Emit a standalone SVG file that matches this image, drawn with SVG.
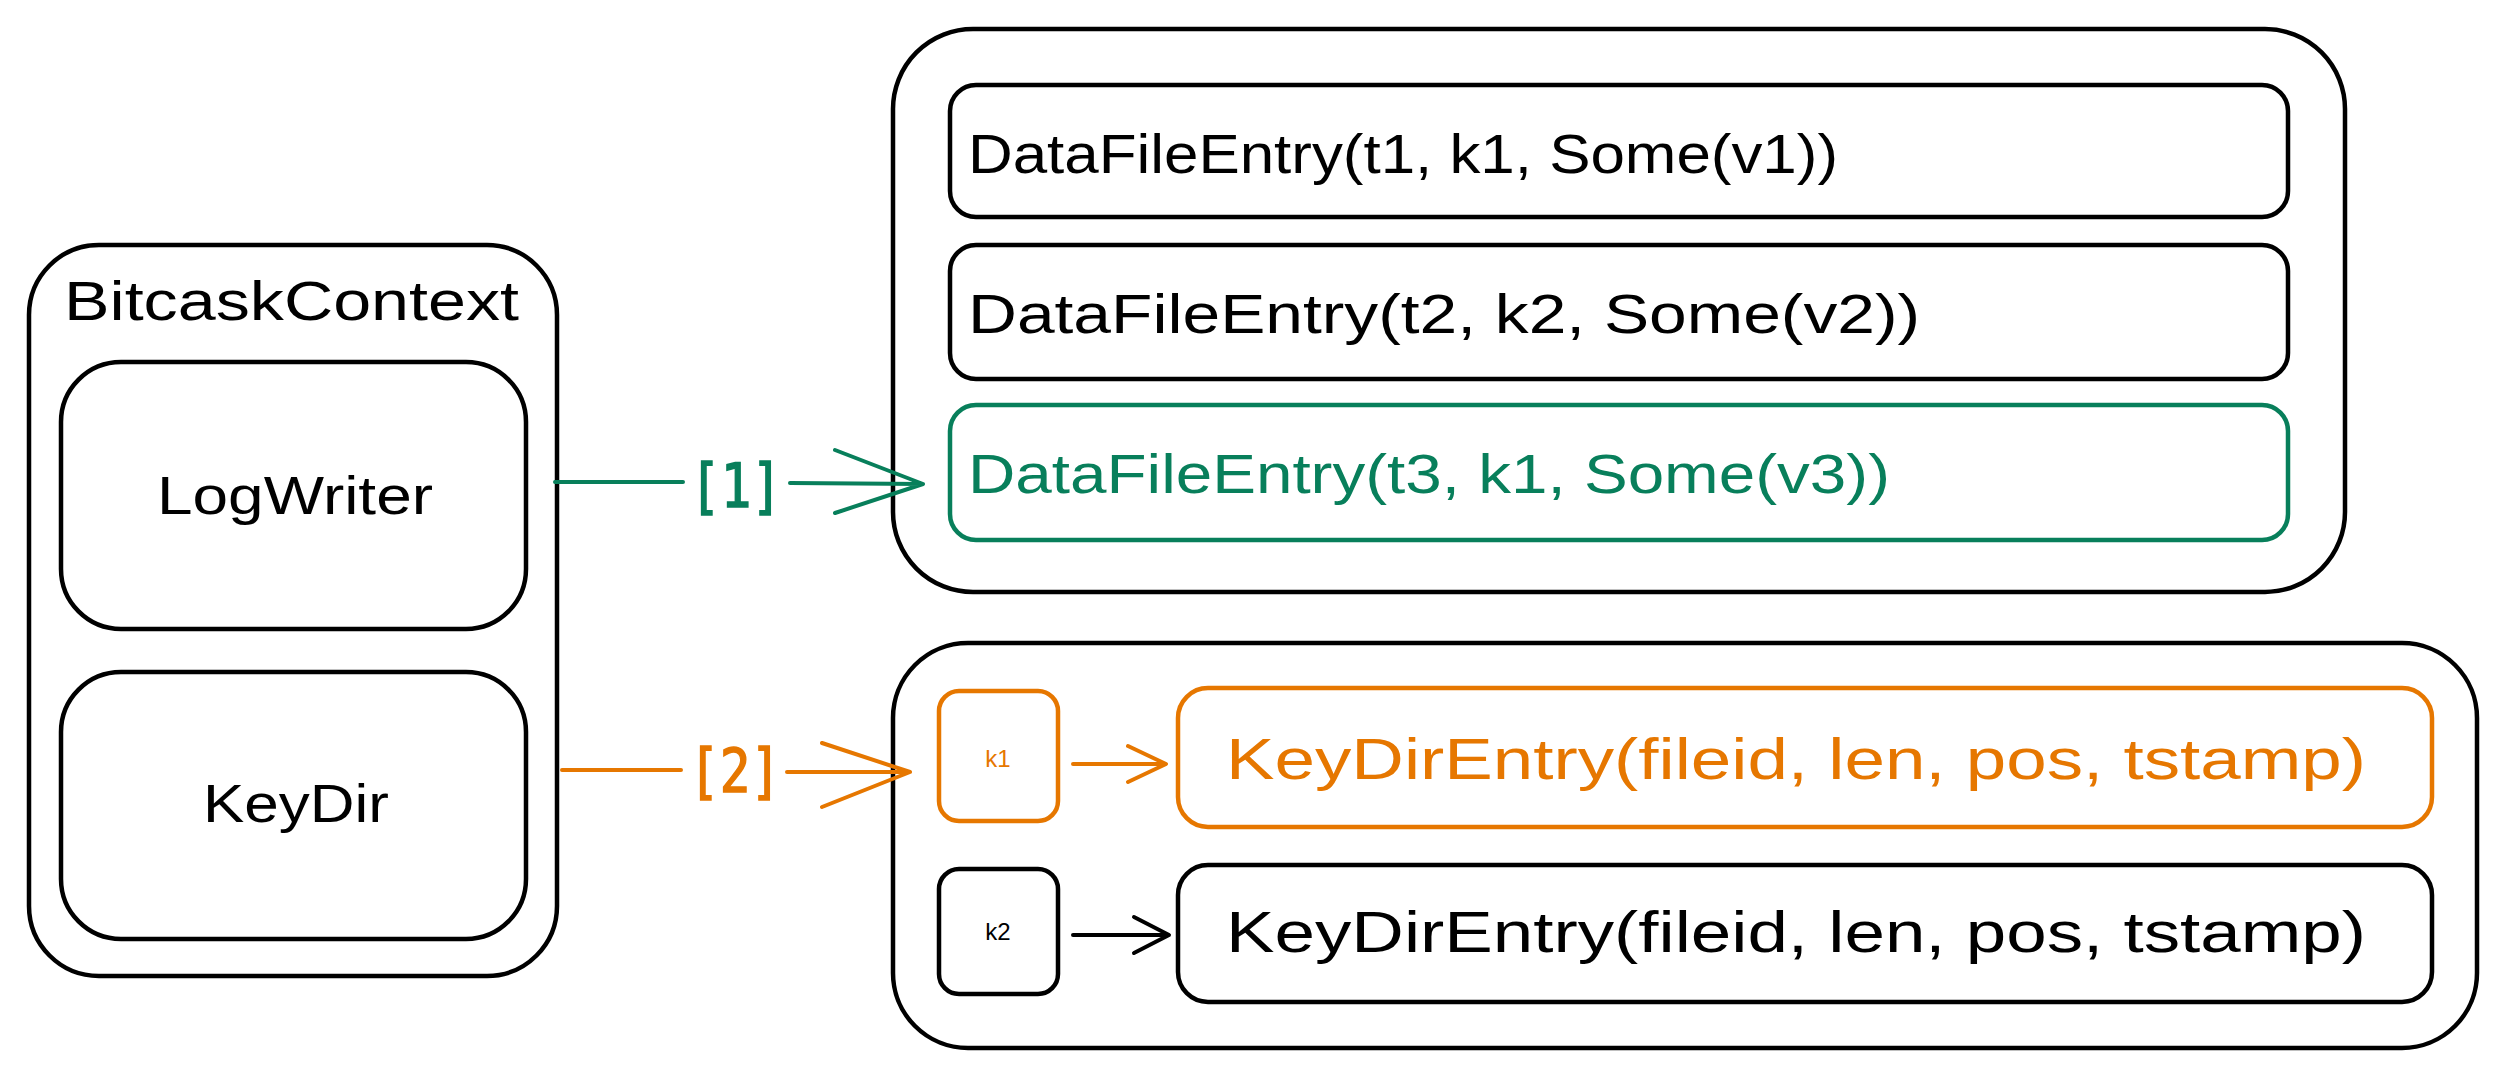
<svg xmlns="http://www.w3.org/2000/svg" width="2508" height="1079" viewBox="0 0 2508 1079">
<style>
.box{fill:none;stroke:#000;stroke-width:4.5;stroke-linejoin:round}
.green{stroke:#087f5b}
.orange{stroke:#e67700}
.t{font-family:"Liberation Sans","Noto Sans",sans-serif;fill:#000}
.tg{fill:#087f5b}
.to{fill:#e67700}
.lbl{font-family:"DejaVu Sans Mono","Liberation Mono",monospace;font-size:60px;stroke-width:1.5}
.ln{fill:none;stroke-width:4;stroke-linecap:round;stroke-linejoin:round}
</style>
<rect width="2508" height="1079" fill="#fff"/>

<g id="bitcask-context">
  <rect class="box" x="29" y="245" width="528" height="731" rx="70"/>
  <text class="t" x="64" y="320" font-size="56" textLength="455" lengthAdjust="spacingAndGlyphs">BitcaskContext</text>
</g>
<g id="log-writer">
  <rect class="box" x="61" y="362" width="465" height="267" rx="60"/>
  <text class="t" x="157" y="514" font-size="54" textLength="276" lengthAdjust="spacingAndGlyphs">LogWriter</text>
</g>
<g id="key-dir">
  <rect class="box" x="61" y="672" width="465" height="267" rx="60"/>
  <text class="t" x="203" y="822" font-size="54" textLength="186" lengthAdjust="spacingAndGlyphs">KeyDir</text>
</g>

<g id="data-file">
  <rect class="box" x="893" y="29" width="1452" height="563" rx="80"/>
</g>
<g id="dfe-1">
  <rect class="box" x="950" y="85" width="1338" height="132" rx="26"/>
  <text class="t" x="968" y="173" font-size="56" textLength="870" lengthAdjust="spacingAndGlyphs">DataFileEntry(t1, k1, Some(v1))</text>
</g>
<g id="dfe-2">
  <rect class="box" x="950" y="245" width="1338" height="134" rx="26"/>
  <text class="t" x="968" y="333" font-size="56" textLength="952" lengthAdjust="spacingAndGlyphs">DataFileEntry(t2, k2, Some(v2))</text>
</g>
<g id="dfe-3">
  <rect class="box green" x="950" y="405" width="1338" height="135" rx="26"/>
  <text class="t tg" x="968" y="493" font-size="56" textLength="922" lengthAdjust="spacingAndGlyphs">DataFileEntry(t3, k1, Some(v3))</text>
</g>

<g id="key-dir-map">
  <rect class="box" x="893" y="643" width="1584" height="405" rx="75"/>
</g>
<g id="k1">
  <rect class="box orange" x="939" y="691" width="119" height="130" rx="20"/>
  <text class="t to" x="998" y="767" font-size="24" text-anchor="middle">k1</text>
</g>
<g id="kde-1">
  <rect class="box orange" x="1178" y="688" width="1254" height="139" rx="30"/>
  <text class="t to" x="1226" y="779" font-size="58" textLength="1140" lengthAdjust="spacingAndGlyphs">KeyDirEntry(fileid, len, pos, tstamp)</text>
</g>
<g id="k2">
  <rect class="box" x="939" y="869" width="119" height="125" rx="20"/>
  <text class="t" x="998" y="940" font-size="24" text-anchor="middle">k2</text>
</g>
<g id="kde-2">
  <rect class="box" x="1178" y="865" width="1254" height="137" rx="30"/>
  <text class="t" x="1226" y="952" font-size="58" textLength="1140" lengthAdjust="spacingAndGlyphs">KeyDirEntry(fileid, len, pos, tstamp)</text>
</g>

<g id="connectors">
  <g id="edge-1">
    <path class="ln green" d="M555 482 L683 482 M790 483 L923 484 M835 450 L923 484 L835 513"/>
    <text class="lbl tg" stroke="#087f5b" x="736" y="507" text-anchor="middle" textLength="92" lengthAdjust="spacingAndGlyphs">[1]</text>
  </g>
  <g id="edge-2">
    <path class="ln orange" d="M562 770 L681 770 M787 772 L910 772 M822 743 L910 772 L822 807"/>
    <text class="lbl to" stroke="#e67700" x="735" y="792" text-anchor="middle" textLength="92" lengthAdjust="spacingAndGlyphs">[2]</text>
  </g>
  <path id="edge-k1" class="ln orange" d="M1073 764 L1165 764 M1128 746 L1166 764 L1128 782"/>
  <path id="edge-k2" class="ln" stroke="#000" d="M1073 935 L1168 935 M1134 917 L1169 935 L1134 953"/>
</g>
</svg>
